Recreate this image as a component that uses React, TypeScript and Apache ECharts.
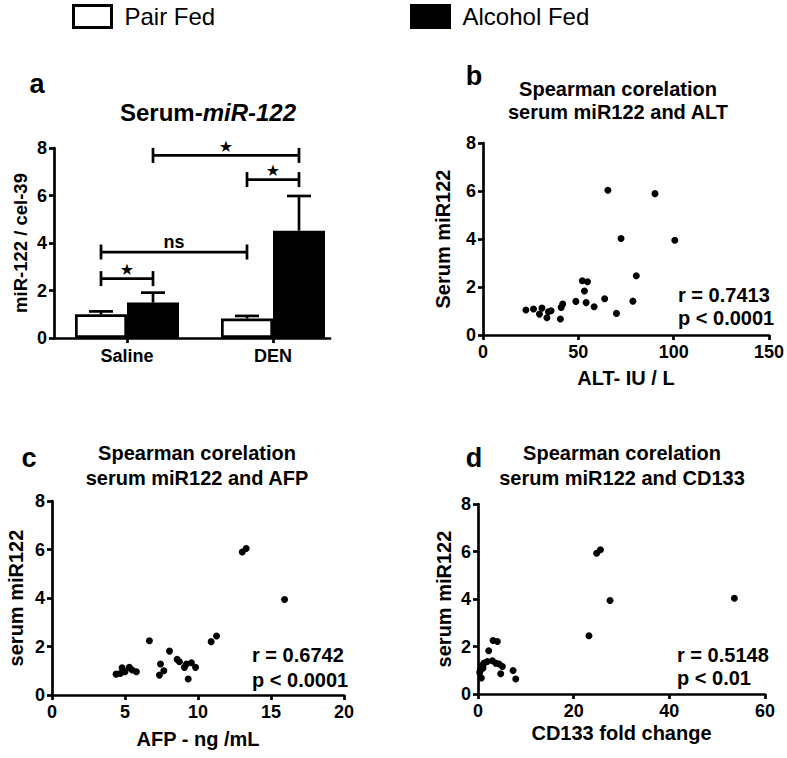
import React, { useEffect, useRef } from 'react';
import * as echarts from 'echarts';

const FONT = '"Liberation Sans", Arial, Helvetica, sans-serif';

// Panel a: bar data
const categories = ['Saline', 'DEN'];
const seriesNames = ['Pair Fed', 'Alcohol Fed'];
const pairFedMean = [1.0, 0.82];
const pairFedUpper = [1.12, 0.93];
const alcoholFedMean = [1.49, 4.52];
const alcoholFedUpper = [1.91, 5.98];
// brackets: [fromCategory, fromSeries, toCategory, toSeries, yValue]
const brackets = [
  [0, 0, 0, 1, 2.5],
  [0, 0, 1, 0, 3.62],
  [1, 0, 1, 1, 6.67],
  [0, 1, 1, 1, 7.69],
];
const bracketLabels = ['★', 'ns', '★', '★'];

// Panel b: ALT (IU/L) vs serum miR122
const altData = [
  [65.5, 6.03], [90.2, 5.89], [72.4, 4.02], [100.6, 3.95], [80.4, 2.47], [52.1, 2.26],
  [54.8, 2.22], [53.2, 1.83], [48.7, 1.40], [54.1, 1.35], [58.3, 1.18], [63.8, 1.51],
  [70.0, 0.90], [78.6, 1.41], [41.8, 1.29], [41.0, 1.15], [40.6, 0.67], [22.5, 1.04],
  [26.5, 1.08], [30.9, 1.12], [29.6, 0.87], [33.5, 0.72], [34.3, 0.97], [35.7, 1.01],
];
// Panel c: AFP (ng/mL) vs serum miR122
const afpData = [
  [13.03, 5.90], [13.3, 6.04], [15.93, 3.94], [6.67, 2.24], [10.9, 2.20], [11.27, 2.43],
  [8.05, 1.81], [8.57, 1.47], [8.73, 1.37], [7.43, 1.28], [9.21, 1.28], [9.55, 1.33],
  [9.83, 1.14], [9.07, 1.14], [7.66, 1.00], [7.36, 0.82], [9.33, 0.66], [4.39, 0.86],
  [4.68, 0.89], [4.8, 1.12], [5.3, 1.14], [5.49, 1.03], [5.78, 0.96], [5.0, 0.96],
];
// Panel d: CD133 fold change vs serum miR122
const cd133Data = [
  [24.8, 5.93], [25.6, 6.07], [27.6, 3.94], [23.2, 2.45], [53.6, 4.03], [3.14, 2.25],
  [4.05, 2.21], [2.24, 1.82], [0.57, 1.05], [0.84, 1.20], [1.26, 1.30], [1.96, 1.37],
  [3.0, 1.40], [3.7, 1.30], [4.4, 1.26], [5.1, 1.16], [4.75, 0.85], [7.33, 0.99],
  [7.89, 0.63], [0.7, 0.67], [0.36, 0.91], [1.05, 1.09],
];

const statsB = ['r = 0.7413', 'p < 0.0001'];
const statsC = ['r = 0.6742', 'p < 0.0001'];
const statsD = ['r = 0.5148', 'p < 0.01'];

const BAR_W = 52;
const LW = 2.7;

const axisLine = { show: true, onZero: false, lineStyle: { color: '#000', width: LW } };
const axisTick = { show: true, inside: false, length: 5, lineStyle: { color: '#000', width: LW } };
const tickLabel = (margin: number) => ({
  fontSize: 18, fontWeight: 'bold', fontFamily: FONT, color: '#000', margin,
});
const nameStyle = (size: number) => ({ fontSize: size, fontWeight: 'bold', fontFamily: FONT, color: '#000' });

function valueAxis(gridIndex: number, max: number, interval: number, extra: any = {}) {
  return {
    type: 'value', gridIndex, min: 0, max, interval,
    axisLine, axisTick, splitLine: { show: false },
    axisLabel: tickLabel(7),
    nameLocation: 'middle',
    ...extra,
  };
}

function txt(text: string, x: number, y: number, size: number, align = 'center', weight = 'bold') {
  return {
    type: 'text', x, y, silent: true,
    style: { text, align, verticalAlign: 'middle', fontSize: size, fontWeight: weight, fontFamily: FONT, fill: '#000' },
  };
}

const scatterStyle = { color: '#000', opacity: 1 };

export default function App() {
  const ref = useRef<HTMLDivElement>(null);
  useEffect(() => {
    document.body.style.margin = '0';
    const chart = echarts.init(ref.current!, null, { renderer: 'svg' });

    const errorData: number[][] = [];
    categories.forEach((_, i) => {
      errorData.push([i, 0, pairFedMean[i], pairFedUpper[i]]);
      errorData.push([i, 1, alcoholFedMean[i], alcoholFedUpper[i]]);
    });

    const legendBase = {
      top: 4, padding: 0, itemWidth: 38, itemHeight: 22, icon: 'rect',
      itemStyle: { borderColor: '#000', borderWidth: 3 },
      textStyle: { fontSize: 24, fontFamily: FONT, color: '#000', padding: [0, 0, 0, 8] },
    };

    const option: any = {
      animation: false,
      backgroundColor: '#fff',
      legend: [
        { ...legendBase, data: [seriesNames[0]], left: 72 },
        { ...legendBase, data: [seriesNames[1]], left: 410 },
      ],
      grid: [
        { left: 54, top: 148, width: 292, height: 190 },
        { left: 54, top: 148, width: 276, height: 190 },
        { left: 483, top: 143, width: 287, height: 192 },
        { left: 52, top: 501, width: 292, height: 194 },
        { left: 478, top: 504, width: 287, height: 190 },
      ],
      xAxis: [
        {
          type: 'category', gridIndex: 0, data: categories,
          axisLine: { show: false },
          axisTick: { ...axisTick, alignWithLabel: true },
          axisLabel: tickLabel(9),
        },
        {
          type: 'value', gridIndex: 1, min: 0, max: 1,
          axisLine, axisTick: { show: false }, axisLabel: { show: false }, splitLine: { show: false },
        },
        valueAxis(2, 150, 50, { name: 'ALT- IU / L', nameGap: 33, nameTextStyle: nameStyle(20), axisLabel: tickLabel(8) }),
        valueAxis(3, 20, 5, { name: 'AFP - ng /mL', nameGap: 34, nameTextStyle: nameStyle(20), axisLabel: tickLabel(8) }),
        valueAxis(4, 60, 20, { name: 'CD133 fold change', nameGap: 29, nameTextStyle: nameStyle(20), axisLabel: tickLabel(8) }),
      ],
      yAxis: [
        valueAxis(0, 8, 2, { name: 'miR-122 / cel-39', nameGap: 24, nameTextStyle: nameStyle(18.5) }),
        { type: 'value', gridIndex: 1, show: false, min: 0, max: 8 },
        valueAxis(2, 8, 2, { name: 'Serum miR122', nameGap: 30, nameTextStyle: nameStyle(20) }),
        valueAxis(3, 8, 2, { name: 'serum miR122', nameGap: 26, nameTextStyle: nameStyle(20) }),
        valueAxis(4, 8, 2, { name: 'serum miR122', nameGap: 24, nameTextStyle: nameStyle(20) }),
      ],
      series: [
        {
          name: seriesNames[0], type: 'bar', xAxisIndex: 0, yAxisIndex: 0,
          data: pairFedMean, barWidth: BAR_W, barGap: '0%',
          itemStyle: { color: '#fff', borderColor: '#000', borderWidth: LW },
        },
        {
          name: seriesNames[1], type: 'bar', xAxisIndex: 0, yAxisIndex: 0,
          data: alcoholFedMean, barWidth: BAR_W, barGap: '0%',
          itemStyle: { color: '#000', borderColor: '#000', borderWidth: LW },
        },
        {
          type: 'custom', xAxisIndex: 0, yAxisIndex: 0, data: errorData,
          encode: { x: 0, y: 3 }, silent: true, z: 3,
          renderItem: (params: any, api: any) => {
            const cat = api.value(0);
            const ser = api.value(1);
            const p0 = api.coord([cat, api.value(2)]);
            const p1 = api.coord([cat, api.value(3)]);
            const x = p0[0] + (ser - 0.5) * BAR_W;
            const st = { stroke: '#000', lineWidth: LW };
            return {
              type: 'group',
              children: [
                { type: 'line', shape: { x1: x, y1: p0[1], x2: x, y2: p1[1] }, style: st },
                { type: 'line', shape: { x1: x - 12, y1: p1[1], x2: x + 12, y2: p1[1] }, style: st },
              ],
            };
          },
        },
        {
          type: 'custom', xAxisIndex: 0, yAxisIndex: 0, data: brackets,
          encode: { x: 0, y: 4 }, silent: true, z: 4,
          renderItem: (params: any, api: any) => {
            const y = api.value(4);
            const a = api.coord([api.value(0), y]);
            const b = api.coord([api.value(2), y]);
            const x1 = a[0] + (api.value(1) - 0.5) * BAR_W;
            const x2 = b[0] + (api.value(3) - 0.5) * BAR_W;
            const yy = a[1];
            const label = bracketLabels[params.dataIndex];
            const st = { stroke: '#000', lineWidth: LW };
            const isStar = label === '★';
            return {
              type: 'group',
              children: [
                { type: 'line', shape: { x1, y1: yy, x2, y2: yy }, style: st },
                { type: 'line', shape: { x1, y1: yy - 7.5, x2: x1, y2: yy + 7.5 }, style: st },
                { type: 'line', shape: { x1: x2, y1: yy - 7.5, x2, y2: yy + 7.5 }, style: st },
                {
                  type: 'text',
                  style: {
                    text: label, x: (x1 + x2) / 2, y: yy - (isStar ? 9 : 10),
                    align: 'center', verticalAlign: 'middle',
                    fontSize: isStar ? 16 : 18, fontWeight: 'bold',
                    fontFamily: isStar ? '"DejaVu Sans", sans-serif' : FONT, fill: '#000',
                  },
                },
              ],
            };
          },
        },
        {
          type: 'scatter', xAxisIndex: 2, yAxisIndex: 2, data: altData,
          symbolSize: 7, itemStyle: scatterStyle,
        },
        {
          type: 'scatter', xAxisIndex: 3, yAxisIndex: 3, data: afpData,
          symbolSize: 7, itemStyle: scatterStyle,
        },
        {
          type: 'scatter', xAxisIndex: 4, yAxisIndex: 4, data: cd133Data,
          symbolSize: 7, itemStyle: scatterStyle,
        },
      ],
      graphic: [
        txt('a', 37, 84, 27),
        txt('b', 474, 76, 27),
        txt('c', 29, 458, 27),
        txt('d', 474, 458, 27),
        {
          type: 'text', x: 208, y: 112, silent: true,
          style: {
            text: '{n|Serum-}{i|miR-122}', align: 'center', verticalAlign: 'middle',
            rich: {
              n: { fontSize: 24, fontWeight: 'bold', fontFamily: FONT, fill: '#000' },
              i: { fontSize: 24, fontWeight: 'bold', fontStyle: 'italic', fontFamily: FONT, fill: '#000' },
            },
          },
        },
        txt('Spearman corelation', 618, 89, 20),
        txt('serum miR122 and ALT', 618, 112, 20),
        txt('Spearman corelation', 197, 453, 20),
        txt('serum miR122 and AFP', 197, 478, 20),
        txt('Spearman corelation', 622, 453, 20),
        txt('serum miR122 and CD133', 622, 478, 20),
        txt(statsB[0], 678, 295, 20, 'left'),
        txt(statsB[1], 678, 318, 20, 'left'),
        txt(statsC[0], 252, 655, 20, 'left'),
        txt(statsC[1], 252, 680, 20, 'left'),
        txt(statsD[0], 677, 655, 20, 'left'),
        txt(statsD[1], 677, 678, 20, 'left'),
      ],
    };
    chart.setOption(option);
    return () => chart.dispose();
  }, []);
  return <div ref={ref} style={{ width: 787, height: 758 }} />;
}
